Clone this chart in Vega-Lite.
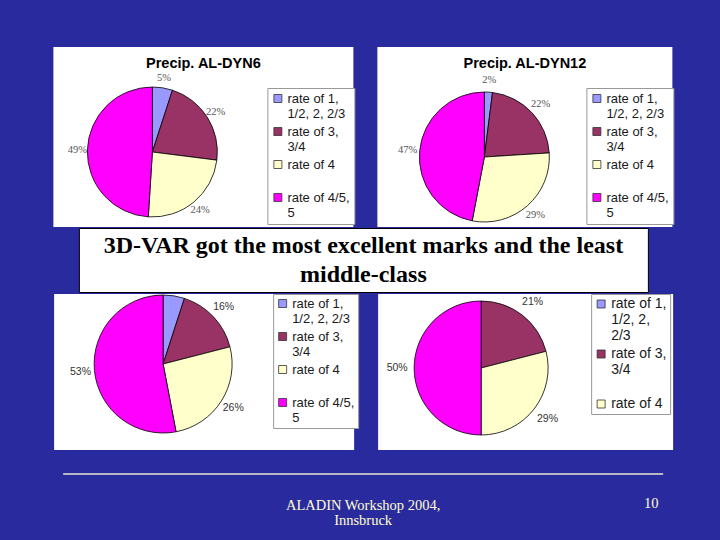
{
  "$schema": "https://vega.github.io/schema/vega-lite/v6.json",
  "background": "#2a2a9f",
  "padding": {"left": 53, "top": 47, "right": 60, "bottom": 40},
  "config": {
    "view": {"stroke": null},
    "legend": {
      "title": null, "symbolType": "square", "symbolSize": 64, "symbolStrokeColor": "#333333",
      "symbolStrokeWidth": 0.8, "symbolOpacity": 1, "labelFont": "Liberation Sans", "labelFontSize": 13,
      "labelColor": "#1a1a1a", "labelLimit": 200, "strokeColor": "#999999", "fillColor": "white",
      "padding": 4, "rowPadding": 4, "gridAlign": "all", "labelOffset": 3
    },
    "title": {"font": "Liberation Sans", "fontSize": 14.5, "fontWeight": "bold", "color": "black", "anchor": "middle"}
  },
  "datasets": {
    "al_dyn6": [
      {"cat": "rate of 1, 1/2, 2, 2/3", "share": 0.05},
      {"cat": "rate of 3, 3/4", "share": 0.22},
      {"cat": "rate of 4", "share": 0.24},
      {"cat": "rate of 4/5, 5", "share": 0.49}
    ],
    "al_dyn12": [
      {"cat": "rate of 1, 1/2, 2, 2/3", "share": 0.02},
      {"cat": "rate of 3, 3/4", "share": 0.22},
      {"cat": "rate of 4", "share": 0.29},
      {"cat": "rate of 4/5, 5", "share": 0.47}
    ],
    "bottom_left": [
      {"cat": "rate of 1, 1/2, 2, 2/3", "share": 0.05},
      {"cat": "rate of 3, 3/4", "share": 0.16},
      {"cat": "rate of 4", "share": 0.26},
      {"cat": "rate of 4/5, 5", "share": 0.53}
    ],
    "bottom_right": [
      {"cat": "rate of 1, 1/2, 2, 2/3", "share": 0.0},
      {"cat": "rate of 3, 3/4", "share": 0.21},
      {"cat": "rate of 4", "share": 0.29},
      {"cat": "rate of 4/5, 5", "share": 0.50}
    ]
  },
  "vconcat": [
    {
      "vconcat": [
        {
          "hconcat": [
            {
              "width": 300, "height": 180,
              "view": {"fill": "white"},
              "title": {"text": "Precip. AL-DYN6", "offset": -24},
              "data": {"name": "al_dyn6"},
              "encoding": {
                "theta": {"field": "share", "type": "quantitative", "stack": true},
                "color": {"field": "cat", "type": "nominal",
                  "scale": {"domain": ["rate of 1, 1/2, 2, 2/3", "rate of 3, 3/4", "rate of 4", "rate of 4/5, 5"], "range": ["#9999ff", "#993366", "#ffffcc", "#ff00ff"]},
                  "legend": {"orient": "none", "legendX": 214, "legendY": 41,
                    "labelExpr": "indexof(datum.label, ',') > 0 ? [slice(datum.label, 0, indexof(datum.label, ',') + 1), slice(datum.label, indexof(datum.label, ',') + 2)] : datum.label"}}
              },
              "layer": [
                {"mark": {"type": "arc", "outerRadius": 65, "stroke": "black", "strokeWidth": 0.8, "x": 99, "y": 105}},
                {"mark": {"type": "text", "radius": 75, "x": 99, "y": 105, "font": "Liberation Serif", "fontSize": 10.5},
                 "encoding": {"color": {"value": "#555555"}, "detail": {"field": "cat", "type": "nominal"}, "text": {"field": "share", "type": "quantitative", "format": ".0%"}}}
              ]
            },
            {
              "width": 295, "height": 180,
              "view": {"fill": "white"},
              "title": {"text": "Precip. AL-DYN12", "offset": -24},
              "data": {"name": "al_dyn12"},
              "encoding": {
                "theta": {"field": "share", "type": "quantitative", "stack": true},
                "color": {"field": "cat", "type": "nominal",
                  "scale": {"domain": ["rate of 1, 1/2, 2, 2/3", "rate of 3, 3/4", "rate of 4", "rate of 4/5, 5"], "range": ["#9999ff", "#993366", "#ffffcc", "#ff00ff"]},
                  "legend": {"orient": "none", "legendX": 209, "legendY": 41,
                    "labelExpr": "indexof(datum.label, ',') > 0 ? [slice(datum.label, 0, indexof(datum.label, ',') + 1), slice(datum.label, indexof(datum.label, ',') + 2)] : datum.label"}}
              },
              "layer": [
                {"mark": {"type": "arc", "outerRadius": 65, "stroke": "black", "strokeWidth": 0.8, "x": 107, "y": 110}},
                {"mark": {"type": "text", "radius": 77, "x": 107, "y": 110, "font": "Liberation Serif", "fontSize": 10.5},
                 "encoding": {"color": {"value": "#555555"}, "detail": {"field": "cat", "type": "nominal"}, "text": {"field": "share", "type": "quantitative", "format": ".0%"}}}
              ]
            }
          ],
          "spacing": 24,
          "bounds": "flush",
          "resolve": {"scale": {"color": "independent"}, "legend": {"color": "independent"}}
        },
        {
          "width": 569, "height": 64,
          "view": {"fill": "white", "stroke": "black", "strokeWidth": 1},
          "data": {"values": [{"caption": "3D-VAR got the most excellent marks and the least\nmiddle-class"}]},
          "mark": {"type": "text", "font": "Liberation Serif", "fontSize": 24, "fontWeight": "bold", "color": "black", "lineBreak": "\n", "lineHeight": 29, "align": "center", "baseline": "middle", "dy": -14},
          "encoding": {"text": {"field": "caption", "type": "nominal"}}
        },
        {
          "hconcat": [
            {
              "width": 300, "height": 156,
              "view": {"fill": "white"},
              "data": {"name": "bottom_left"},
              "encoding": {
                "theta": {"field": "share", "type": "quantitative", "stack": true},
                "color": {"field": "cat", "type": "nominal",
                  "scale": {"domain": ["rate of 1, 1/2, 2, 2/3", "rate of 3, 3/4", "rate of 4", "rate of 4/5, 5"], "range": ["#9999ff", "#993366", "#ffffcc", "#ff00ff"]},
                  "legend": {"orient": "none", "legendX": 219, "legendY": 0, "padding": 3,
                    "labelExpr": "indexof(datum.label, ',') > 0 ? [slice(datum.label, 0, indexof(datum.label, ',') + 1), slice(datum.label, indexof(datum.label, ',') + 2)] : datum.label"}}
              },
              "layer": [
                {"mark": {"type": "arc", "outerRadius": 69, "stroke": "black", "strokeWidth": 0.8, "x": 109, "y": 70}},
                {"mark": {"type": "text", "radius": 83, "x": 109, "y": 70, "font": "Liberation Sans", "fontSize": 10.5, "clip": true},
                 "encoding": {"color": {"value": "#333333"}, "detail": {"field": "cat", "type": "nominal"}, "text": {"field": "share", "type": "quantitative", "format": ".0%"}}}
              ]
            },
            {
              "width": 295, "height": 156,
              "view": {"fill": "white"},
              "data": {"name": "bottom_right"},
              "encoding": {
                "theta": {"field": "share", "type": "quantitative", "stack": true},
                "color": {"field": "cat", "type": "nominal",
                  "scale": {"domain": ["rate of 1, 1/2, 2, 2/3", "rate of 3, 3/4", "rate of 4", "rate of 4/5, 5"], "range": ["#9999ff", "#993366", "#ffffcc", "#ff00ff"]},
                  "legend": {"orient": "none", "legendX": 213, "legendY": 0, "padding": 3, "labelFontSize": 14,
                    "values": ["rate of 1, 1/2, 2, 2/3", "rate of 3, 3/4", "rate of 4"],
                    "labelExpr": "datum.label == 'rate of 1, 1/2, 2, 2/3' ? ['rate of 1,', '1/2, 2,', '2/3'] : (indexof(datum.label, ',') > 0 ? [slice(datum.label, 0, indexof(datum.label, ',') + 1), slice(datum.label, indexof(datum.label, ',') + 2)] : datum.label)"}}
              },
              "layer": [
                {"mark": {"type": "arc", "outerRadius": 67, "stroke": "black", "strokeWidth": 0.8, "x": 103, "y": 74}},
                {"transform": [{"filter": "datum.share > 0"}],
                 "mark": {"type": "text", "radius": 84, "x": 103, "y": 74, "font": "Liberation Sans", "fontSize": 10.5, "clip": true},
                 "encoding": {"color": {"value": "#333333"}, "detail": {"field": "cat", "type": "nominal"}, "text": {"field": "share", "type": "quantitative", "format": ".0%"}}}
              ]
            }
          ],
          "spacing": 24,
          "bounds": "flush",
          "resolve": {"scale": {"color": "independent"}, "legend": {"color": "independent"}}
        }
      ],
      "spacing": 0,
      "center": true,
      "resolve": {"scale": {"color": "independent"}, "legend": {"color": "independent"}}
    },
    {
      "width": 600, "height": 44,
      "layer": [
        {"data": {"values": [{}]}, "mark": {"type": "rule", "color": "#e6e6d2", "strokeWidth": 1.5}, "encoding": {"y": {"value": 0}}},
        {"data": {"values": [{"footer": "ALADIN Workshop 2004,\nInnsbruck"}]},
         "mark": {"type": "text", "font": "Liberation Serif", "fontSize": 14.5, "color": "#ffffcc", "lineBreak": "\n", "lineHeight": 15, "baseline": "top", "dy": 3},
         "encoding": {"text": {"field": "footer", "type": "nominal"}}},
        {"data": {"values": [{"page": "10"}]},
         "mark": {"type": "text", "font": "Liberation Serif", "fontSize": 14.5, "color": "#ffffcc", "baseline": "top", "dx": 288, "dy": 1},
         "encoding": {"text": {"field": "page", "type": "nominal"}}}
      ]
    }
  ],
  "spacing": 23,
  "center": true,
  "resolve": {"scale": {"color": "independent"}, "legend": {"color": "independent"}}
}
